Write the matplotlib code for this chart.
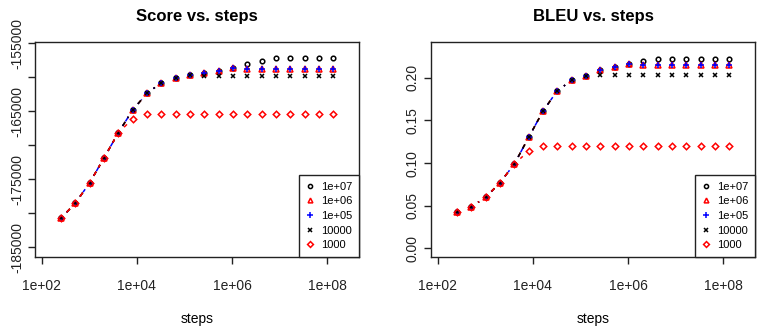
import matplotlib
matplotlib.use('Agg')
import matplotlib.pyplot as plt
from matplotlib.lines import Line2D
from matplotlib.ticker import NullLocator
import numpy as np

plt.rcParams['font.family'] = ['Liberation Sans', 'DejaVu Sans']
plt.rcParams['axes.unicode_minus'] = False

steps = [256, 512, 1024, 2048, 4096, 8192, 16384, 32768, 65536, 131072,
         262144, 524288, 1048576, 2097152, 4194304, 8388608, 16777216,
         33554432, 67108864, 134217728]

series_labels = ['1e+07', '1e+06', '1e+05', '10000', '1000']
series_colors = ['black', 'red', 'blue', 'black', 'red']
series_markers = ['o', '^', '+', 'x', 'D']

score_1e7 = [-180700, -178500, -175500, -171850, -168150, -164800, -162350, -160800, -160150, -159720,
             -159400, -159030, -158700, -158000, -157650, -157200, -157150, -157150, -157150, -157150]
score_1e6 = [-180700, -178500, -175500, -171850, -168150, -164800, -162350, -160800, -160150, -159720,
             -159400, -159030, -158700, -158780, -158780, -158780, -158780, -158780, -158780, -158780]
score_1e5 = [-180700, -178500, -175500, -171850, -168150, -164800, -162350, -160800, -160150, -159720,
             -159400, -159030, -158700, -158780, -158780, -158780, -158780, -158780, -158780, -158780]
score_1e4 = [-180700, -178500, -175500, -171850, -168150, -164800, -162350, -160800, -160150, -159720,
             -159800, -159800, -159800, -159800, -159800, -159800, -159800, -159800, -159800, -159800]
score_1e3 = [-180700, -178500, -175500, -171850, -168150, -166100, -165400, -165400, -165400, -165400,
             -165400, -165400, -165400, -165400, -165400, -165400, -165400, -165400, -165400, -165400]

bleu_1e7 = [0.0426, 0.0487, 0.0600, 0.0770, 0.0990, 0.1303, 0.1610, 0.1850, 0.1970, 0.2024,
            0.2088, 0.2131, 0.2160, 0.2195, 0.2220, 0.2225, 0.2225, 0.2225, 0.2225, 0.2225]
bleu_1e6 = [0.0426, 0.0487, 0.0600, 0.0770, 0.0990, 0.1303, 0.1610, 0.1850, 0.1970, 0.2024,
            0.2088, 0.2131, 0.2160, 0.2155, 0.2155, 0.2155, 0.2155, 0.2155, 0.2155, 0.2155]
bleu_1e5 = [0.0426, 0.0487, 0.0600, 0.0770, 0.0990, 0.1303, 0.1610, 0.1850, 0.1970, 0.2024,
            0.2088, 0.2131, 0.2160, 0.2155, 0.2155, 0.2155, 0.2155, 0.2155, 0.2155, 0.2155]
bleu_1e4 = [0.0426, 0.0487, 0.0600, 0.0770, 0.0990, 0.1303, 0.1610, 0.1850, 0.1970, 0.2024,
            0.2030, 0.2030, 0.2030, 0.2030, 0.2030, 0.2030, 0.2030, 0.2030, 0.2030, 0.2030]
bleu_1e3 = [0.0426, 0.0487, 0.0600, 0.0770, 0.0990, 0.1142, 0.1195, 0.1195, 0.1195, 0.1195,
            0.1195, 0.1195, 0.1195, 0.1195, 0.1195, 0.1195, 0.1195, 0.1195, 0.1195, 0.1195]

x_ticks = [1e2, 1e4, 1e6, 1e8]
x_tick_labels = ['1e+02', '1e+04', '1e+06', '1e+08']
score_ticks = [-185000, -180000, -175000, -170000, -165000, -160000, -155000]
score_tick_labels = ['-185000', '', '-175000', '', '-165000', '', '-155000']
bleu_ticks = [0.00, 0.05, 0.10, 0.15, 0.20]
bleu_tick_labels = ['0.00', '0.05', '0.10', '0.15', '0.20']

line_styles = [(0, (3.1, 3.1)), (0, (3.1, 3.1)), (0, (1, 2.5, 3.5, 2.5)), (0, (3.1, 3.1)), (0, (3.1, 3.1))]
m = 3.3
marker_sizes = [m, 1.15 * m, 1.45 * m, m, m]
LW = 1.1
MEW = 1.1

fig = plt.figure(figsize=(7.64, 3.28), dpi=100)


def draw_b_lines(ax, xs, ys, color, ls, z, gap_px=8.0):
    pts = ax.transData.transform(np.column_stack([xs, ys]))
    inv = ax.transData.inverted()
    for p0, p1 in zip(pts[:-1], pts[1:]):
        d = p1 - p0
        L = np.hypot(d[0], d[1])
        if L > 2 * gap_px:
            u = d / L
            a = inv.transform(p0 + u * gap_px)
            b = inv.transform(p1 - u * gap_px)
            ax.plot([a[0], b[0]], [a[1], b[1]], color=color, linestyle=ls, lw=LW, zorder=z)


def panel(rect, series, title, ylim, yticks, ytlabels):
    ax = fig.add_axes(rect)
    ax.set_xscale('log')
    ax.set_xlim(10 ** 1.86, 10 ** 8.67)
    ax.set_ylim(*ylim)
    for i, ys in enumerate(series):
        z = 3 + 2 * i
        draw_b_lines(ax, steps, ys, series_colors[i], line_styles[i], z)
        ax.plot(steps, ys, linestyle='none', marker=series_markers[i], ms=marker_sizes[i],
                mfc='none', mec=series_colors[i], mew=MEW, zorder=z + 1)
    ax.set_xticks(x_ticks)
    ax.set_xticklabels(x_tick_labels)
    ax.xaxis.set_minor_locator(NullLocator())
    ax.set_yticks(yticks)
    ax.set_yticklabels(ytlabels, rotation=90, va='center')
    ax.tick_params(axis='both', direction='out', length=5, width=1.0, labelsize=10, colors='#222222')
    ax.tick_params(axis='x', pad=10.5)
    ax.tick_params(axis='y', pad=3)
    for sp in ax.spines.values():
        sp.set_linewidth(1.0)
        sp.set_color('#222222')
    ax.set_title(title, fontsize=12, fontweight='bold', pad=15)
    ax.set_xlabel('steps', fontsize=10, labelpad=14)
    handles = [Line2D([], [], linestyle='none', marker=series_markers[i], ms=marker_sizes[i] * 0.9,
                      mfc='none', mec=series_colors[i], mew=MEW) for i in range(5)]
    leg = ax.legend(handles, series_labels, loc='lower right', bbox_to_anchor=(1, 0),
                    borderaxespad=0, frameon=True, fancybox=False, edgecolor='#222222',
                    framealpha=1, fontsize=8, handlelength=0.8, handletextpad=0.6,
                    borderpad=0.6, labelspacing=0.42)
    leg.get_frame().set_linewidth(1.0)
    leg.set_zorder(20)
    return ax


panel([35 / 764, 71 / 328, 324 / 764, 215 / 328],
      [score_1e7, score_1e6, score_1e5, score_1e4, score_1e3],
      'Score vs. steps', (-186425, -154810), score_ticks, score_tick_labels)
panel([431 / 764, 71 / 328, 324 / 764, 215 / 328],
      [bleu_1e7, bleu_1e6, bleu_1e5, bleu_1e4, bleu_1e3],
      'BLEU vs. steps', (-0.0102, 0.2421), bleu_ticks, bleu_tick_labels)

fig.savefig('out.png', dpi=100)
